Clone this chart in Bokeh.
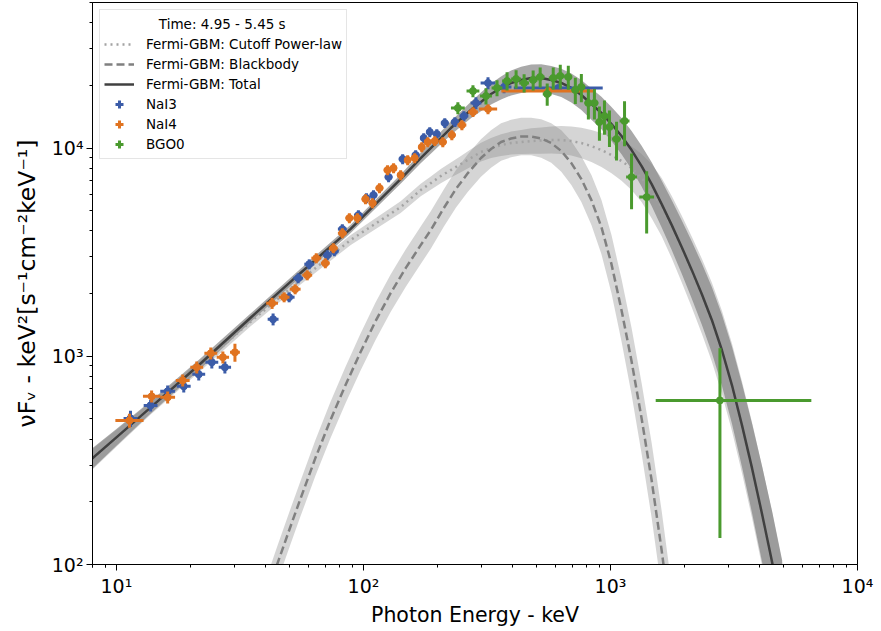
from bokeh.plotting import figure
from bokeh.models import FixedTicker, CustomJSTickFormatter, Legend, LegendItem
from bokeh.embed import file_html
from bokeh.resources import INLINE

# ---------------- model curves ----------------
grid_E = [7.91, 10.0, 13.62, 21.75, 34.73, 55.47, 88.54, 141.4, 170.5, 187.3, 205.6, 225.8,
          248.0, 272.3, 299.0, 328.4, 360.6, 395.9, 434.8, 477.5, 524.3, 575.8, 632.2, 694.3,
          762.3, 837.2, 919.3, 1009.5, 1108.5, 1217.3, 1336.6, 1467.9, 1611.6, 1770.1, 1943.6,
          2134.4, 2343.9, 2574.0, 2826.0, 3103.7, 3407.8, 3743.1, 4111.0, 4514.6, 4956.8]
total_F = [319.8, 407.9, 562.3, 915.2, 1523, 2506, 4080, 7096, 8953, 10000, 11170, 12480,
           13790, 15230, 16640, 18180, 19430, 20540, 21230, 21710, 21710, 21230, 20540, 19430,
           17980, 16270, 14740, 13040, 11420, 9781, 8193, 6714, 5381, 4264, 3342,
           2592, 1987, 1490, 1069, 725.5, 465.9, 289.4, 174.0, 102.2, 57.5]
total_band_dex = [0.05, 0.04, 0.03, 0.025, 0.02, 0.02, 0.02, 0.022, 0.025, 0.027, 0.03, 0.033,
                  0.036, 0.04, 0.045, 0.05, 0.055, 0.06, 0.063, 0.065, 0.066, 0.067, 0.068, 0.07,
                  0.072, 0.075, 0.078, 0.082, 0.087, 0.092, 0.098, 0.105, 0.112, 0.12, 0.128,
                  0.137, 0.147, 0.158, 0.17, 0.185, 0.2, 0.215, 0.23, 0.245, 0.26]
cpl_F = [316.2, 403.4, 556.2, 895.1, 1457, 2319, 3612, 5203, 6282, 6786, 7335, 7839,
         8378, 8953, 9568, 10000, 10337, 10568, 10686, 10807, 10867, 10926, 10926, 10807,
         10568, 10223, 9781, 9255, 8660, 8014, 7175, 6213, 5203, 4171, 3269,
         2534, 1943, 1457, 1045, 709.6, 455.7, 283.1, 170.2, 100.0, 56.2]
cpl_band_dex = [0.05, 0.04, 0.03, 0.025, 0.022, 0.022, 0.024, 0.028, 0.03, 0.032, 0.034, 0.036,
                0.039, 0.042, 0.045, 0.048, 0.052, 0.055, 0.058, 0.061, 0.063, 0.065, 0.067, 0.07,
                0.073, 0.077, 0.082, 0.088, 0.095, 0.105, 0.115, 0.13, 0.14, 0.15, 0.16,
                0.17, 0.18, 0.19, 0.2, 0.21, 0.22, 0.23, 0.24, 0.25, 0.26]
bb_E = [39.97, 44.71, 50.49, 55.47, 63.80, 73.43, 84.52, 97.23, 111.9, 128.8, 148.2, 170.5,
        187.3, 211.4, 236.6, 264.7, 299.0, 328.4, 360.6, 395.9, 434.8, 477.5, 524.3, 575.8,
        632.2, 694.3, 762.3, 837.2, 919.3, 1009.5, 1108.5, 1217.3, 1336.6, 1467.9, 1611.6, 1770.1]
bb_F = [67.9, 100.0, 150.6, 205.4, 323.3, 492.3, 725.5, 1045, 1474, 2009, 2649, 3417,
        4036, 5146, 6352, 7583, 8953, 9890, 10690, 11110, 11360, 11360, 11110, 10570,
        9674, 8472, 7096, 5623, 4171, 2769, 1664, 946.2, 503.3, 253.4, 116.8, 49.2]
bb_band_dex = [0.085, 0.085, 0.085, 0.085, 0.086, 0.087, 0.088, 0.089, 0.09, 0.09, 0.09, 0.09,
               0.09, 0.09, 0.09, 0.09, 0.09, 0.09, 0.09, 0.09, 0.09, 0.09, 0.092, 0.095,
               0.1, 0.105, 0.11, 0.12, 0.13, 0.14, 0.15, 0.16, 0.17, 0.18, 0.19, 0.2]

# ---------------- detector data points ----------------
nai3_E = [11.40, 13.75, 16.12, 18.73, 21.54, 24.33, 27.48, 43.07, 50.02, 54.43, 60.33, 71.4,
          76.22, 82.13, 95.4, 102.8, 109.8, 126.4, 144.1, 162.7, 175.4, 185.5, 198.1, 213.4,
          234.5, 255.0, 285.4, 319.3, 370.8, 614.6]
nai3_F = [503, 581, 679, 717, 819, 936, 885, 1506, 1922, 2371, 2769, 3059,
          3198, 4080, 4764, 5748, 5943, 7255, 8853, 9255, 11170, 11940, 11680, 13190,
          13340, 14250, 16460, 20540, 19650, 19430]
nai3_Ferr = [45, 38, 45, 47, 54, 62, 58, 99, 106, 130, 152, 168,
             176, 224, 262, 316, 327, 400, 487, 509, 614, 657, 642, 725,
             734, 784, 1090, 1360, 1300, 650]
nai3_Edex = [0.028, 0.028, 0.03, 0.028, 0.026, 0.026, 0.025, 0.022, 0.022, 0.02, 0.02, 0.018,
             0.018, 0.018, 0.018, 0.016, 0.016, 0.016, 0.016, 0.016, 0.014, 0.014, 0.014, 0.016,
             0.016, 0.018, 0.022, 0.03, 0.03, 0.18]

nai4_E = [11.29, 13.88, 16.12, 18.55, 21.14, 24.10, 26.97, 30.18, 42.67, 47.74, 52.90, 59.21,
          64.42, 70.08, 75.51, 82.13, 87.70, 94.50, 101.9, 108.8, 116.1, 125.2, 132.4, 141.4,
          151.0, 161.2, 172.2, 182.0, 194.4, 209.5, 227.9, 250.3, 277.5, 319.3, 560.0]
nai4_F = [492, 642, 635, 766, 885, 1034, 989, 1045, 1798, 1922, 2100, 2451,
          2959, 2800, 3306, 3903, 4609, 4609, 5685, 5440, 6424, 7839, 8014, 7418,
          8756, 8952, 10110, 10690, 10810, 10690, 11550, 12900, 14900, 15400, 18790]
nai4_Ferr = [38, 42, 42, 51, 58, 68, 65, 104, 110, 106, 116, 135,
             163, 154, 182, 215, 254, 254, 313, 300, 354, 431, 441, 408,
             482, 492, 556, 588, 595, 588, 635, 710, 820, 850, 600]
nai4_Edex = [0.057, 0.035, 0.03, 0.028, 0.026, 0.026, 0.025, 0.02, 0.024, 0.022, 0.022, 0.02,
             0.02, 0.018, 0.018, 0.018, 0.016, 0.016, 0.016, 0.016, 0.016, 0.016, 0.014, 0.014,
             0.014, 0.014, 0.014, 0.014, 0.014, 0.016, 0.016, 0.018, 0.02, 0.037, 0.19]

bgo_E = [241.1, 277.5, 313.3, 347.3, 381.4, 414.9, 447.1, 486.4, 519.3, 554.5, 586.5, 626.3,
         675.0, 720.7, 762.3, 813.8, 861.0, 902.1, 945.4, 990.6, 1058, 1140, 1217, 1401, 2774]
bgo_F = [15570, 18790, 17780, 19430, 20990, 21470, 20540, 21230, 21950, 18180, 21710, 22200,
         21950, 19000, 19650, 16460, 16460, 13340, 14250, 12620, 11050, 13490, 7255, 5813, 614]
bgo_Ferr = [1030, 1240, 1580, 1720, 2100, 2140, 2050, 2350, 2430, 2210, 2640, 2950,
            2920, 2730, 3050, 2730, 2730, 2510, 2680, 2510, 2330, 3290, 2170, 1930, 480]
bgo_Edex_lo = [0.028, 0.026, 0.024, 0.022, 0.02, 0.02, 0.02, 0.018, 0.018, 0.018, 0.018, 0.018,
               0.016, 0.016, 0.016, 0.016, 0.016, 0.016, 0.016, 0.016, 0.018, 0.02, 0.022, 0.03, 0.26]
bgo_Edex_hi = [0.028, 0.026, 0.024, 0.022, 0.02, 0.02, 0.02, 0.018, 0.018, 0.018, 0.018, 0.018,
               0.016, 0.016, 0.016, 0.016, 0.016, 0.016, 0.016, 0.016, 0.018, 0.02, 0.022, 0.03, 0.37]

x_ticks = [10, 100, 1000, 10000]
y_ticks = [100, 1000, 10000]

C_NAI3 = "#3b5ca8"
C_NAI4 = "#e07320"
C_BGO = "#4a9a2e"
FONT = "DejaVu Sans"

p = figure(width=881, height=631, x_axis_type="log", y_axis_type="log",
           x_range=(8, 1e4), y_range=(100, 5e4),
           output_backend="svg", toolbar_location=None,
           min_border_left=92, min_border_right=24, min_border_top=2, min_border_bottom=67)
p.xgrid.visible = False
p.ygrid.visible = False
p.outline_line_color = "black"
p.outline_line_width = 1
p.outline_line_alpha = 1
p.background_fill_color = "white"
p.border_fill_color = "white"


def band(F, dex):
    lo = [f / 10 ** d for f, d in zip(F, dex)]
    hi = [f * 10 ** d for f, d in zip(F, dex)]
    return lo, hi


cpl_lo, cpl_hi = band(cpl_F, cpl_band_dex)
bb_lo, bb_hi = band(bb_F, bb_band_dex)
tot_lo, tot_hi = band(total_F, total_band_dex)

p.varea(x=grid_E, y1=cpl_lo, y2=cpl_hi, fill_color="#808080", fill_alpha=0.33)
p.varea(x=bb_E, y1=bb_lo, y2=bb_hi, fill_color="#808080", fill_alpha=0.33)
p.varea(x=grid_E, y1=tot_lo, y2=tot_hi, fill_color="#808080", fill_alpha=0.68)

r_cpl = p.line(grid_E, cpl_F, line_color="#a3a3a3", line_width=2.5, line_dash="2 4")
r_bb = p.line(bb_E, bb_F, line_color="#808080", line_width=2.5, line_dash="8 4")
r_tot = p.line(grid_E, total_F, line_color="#404040", line_width=2.5)


def errbars(E, F, Ferr, dlo, dhi, color):
    x0 = [e / 10 ** d for e, d in zip(E, dlo)]
    x1 = [e * 10 ** d for e, d in zip(E, dhi)]
    p.segment(x0=x0, y0=F, x1=x1, y1=F, line_color=color, line_width=3)
    y0 = [f - s for f, s in zip(F, Ferr)]
    y1 = [f + s for f, s in zip(F, Ferr)]
    p.segment(x0=E, y0=y0, x1=E, y1=y1, line_color=color, line_width=3)
    p.scatter(E, F, size=7, marker="circle", fill_color=color, line_color=color)
    # zero-size cross: invisible on the plot, used only as the legend symbol
    return p.scatter(E, F, size=0, marker="cross", line_color=color, line_width=3)


leg_nai3 = errbars(nai3_E, nai3_F, nai3_Ferr, nai3_Edex, nai3_Edex, C_NAI3)
leg_nai4 = errbars(nai4_E, nai4_F, nai4_Ferr, nai4_Edex, nai4_Edex, C_NAI4)
leg_bgo = errbars(bgo_E, bgo_F, bgo_Ferr, bgo_Edex_lo, bgo_Edex_hi, C_BGO)

r_title = p.line([], [], line_alpha=0)

legend = Legend(items=[
    LegendItem(label="\u00a0\u00a0\u00a0Time: 4.95 - 5.45 s", renderers=[r_title]),
    LegendItem(label="Fermi-GBM: Cutoff Power-law", renderers=[r_cpl]),
    LegendItem(label="Fermi-GBM: Blackbody", renderers=[r_bb]),
    LegendItem(label="Fermi-GBM: Total", renderers=[r_tot]),
    LegendItem(label="NaI3", renderers=[leg_nai3]),
    LegendItem(label="NaI4", renderers=[leg_nai4]),
    LegendItem(label="BGO0", renderers=[leg_bgo]),
])
legend.location = "top_left"
legend.margin = 7
legend.padding = 4
legend.spacing = 0
legend.glyph_width = 30
legend.glyph_height = 20
legend.label_height = 20
legend.label_standoff = 12
legend.label_text_font = FONT
legend.label_text_font_size = "13.5px"
legend.label_text_color = "black"
legend.border_line_color = "#cccccc"
legend.border_line_width = 1
legend.background_fill_color = "white"
legend.background_fill_alpha = 0.85
p.add_layout(legend)

fmt = CustomJSTickFormatter(code="""
const sup = {"0":"\u2070","1":"\u00b9","2":"\u00b2","3":"\u00b3","4":"\u2074","5":"\u2075",
             "6":"\u2076","7":"\u2077","8":"\u2078","9":"\u2079","-":"\u207b"};
const e = Math.round(Math.log10(tick));
return "10" + String(e).split("").map(c => sup[c]).join("");
""")

x_minor = [m * d for d in (1, 10, 100, 1000) for m in (2, 3, 4, 5, 6, 7, 8, 9)] + [8, 9]
y_minor = [m * d for d in (100, 1000, 10000) for m in (2, 3, 4, 5, 6, 7, 8, 9)]
p.xaxis.ticker = FixedTicker(ticks=x_ticks, minor_ticks=x_minor)
p.yaxis.ticker = FixedTicker(ticks=y_ticks, minor_ticks=y_minor)

for ax in (p.xaxis[0], p.yaxis[0]):
    ax.formatter = fmt
    ax.major_label_text_font = FONT
    ax.major_label_text_font_size = "19px"
    ax.major_label_text_color = "black"
    ax.axis_label_text_font = FONT
    ax.axis_label_text_font_style = "normal"
    ax.axis_label_text_color = "black"
    ax.major_tick_in = 0
    ax.major_tick_out = 6
    ax.minor_tick_in = 0
    ax.minor_tick_out = 3
    ax.axis_line_color = "black"
    ax.major_tick_line_color = "black"
    ax.minor_tick_line_color = "black"

p.xaxis.axis_label = "Photon Energy - keV"
p.yaxis.axis_label = "\u03bdF\u1d65 - keV\u00b2[s\u207b\u00b9cm\u207b\u00b2keV\u207b\u00b9]"
p.xaxis.axis_label_text_font_size = "20.5px"
p.yaxis.axis_label_text_font_size = "23.5px"
p.xaxis.major_label_standoff = 4
p.xaxis.axis_label_standoff = 3
p.yaxis.major_label_standoff = 3
p.yaxis.axis_label_standoff = 8

open("out.html", "w").write(file_html(p, INLINE))
